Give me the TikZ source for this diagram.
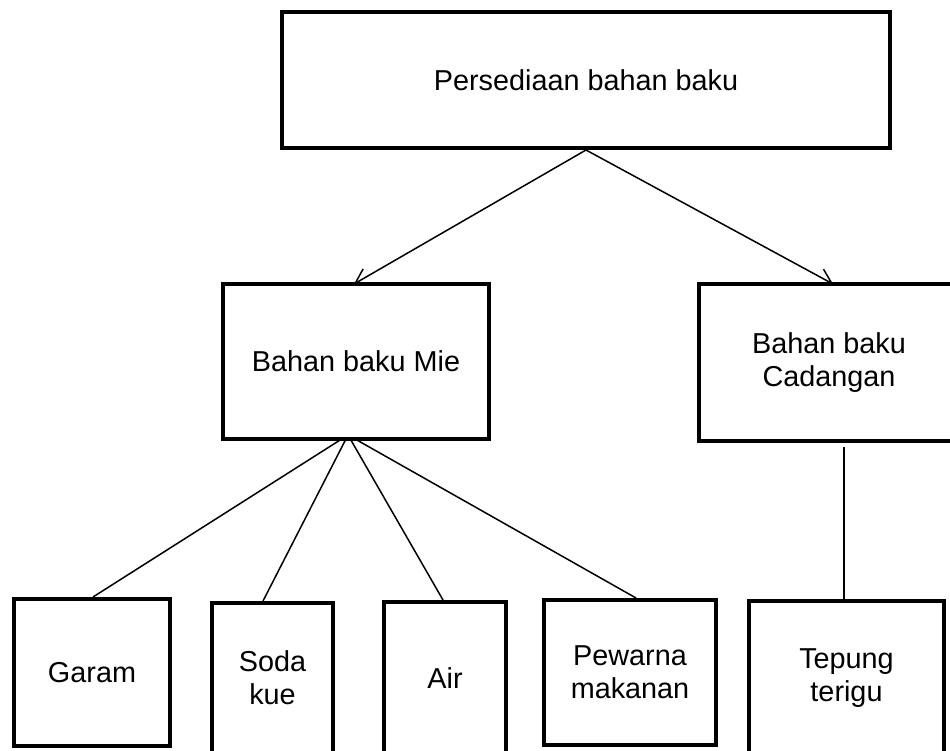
\documentclass[tikz,border=0pt]{standalone}
\usepackage{fontspec}
\setmainfont{Liberation Sans}
\usetikzlibrary{arrows.meta}
\pgfdeclarelayer{background}
\pgfsetlayers{background,main}
\begin{document}
\begin{tikzpicture}[x=1pt,y=-1pt,
  box/.style={draw, line width=4pt, fill=white, rectangle, align=center, inner sep=0pt,
    font=\fontsize{28.8pt}{33pt}\selectfont},
  conn/.style={line width=1.5pt},
  arr/.style={line width=1.5pt, -{Straight Barb[length=14pt,width=17pt,line width=1.5pt]}}]
\useasboundingbox (0,0) rectangle (950,751);
\node[box, minimum width=608pt, minimum height=136pt] (top) at (586,80) {Persediaan bahan baku};
\node[box, minimum width=266pt, minimum height=155pt] (mie) at (356,361.5) {Bahan baku Mie};
\node[box, minimum width=260pt, minimum height=157pt] (cad) at (829,362.5) {Bahan baku\\Cadangan};
\node[box, minimum width=156pt, minimum height=147pt] (garam) at (92,672.5) {Garam};
\node[box, minimum width=121pt, minimum height=150pt] (soda) at (272.5,678) {Soda\\kue};
\node[box, minimum width=122pt, minimum height=152pt] (air) at (445,678) {Air};
\node[box, minimum width=172pt, minimum height=145pt] (pew) at (630,672.5) {Pewarna\\makanan};
\node[box, minimum width=195pt, minimum height=154pt] (tep) at (846.5,678) {Tepung\\terigu};
\coordinate (mieh) at (348,435);
\begin{pgfonlayer}{background}
\draw[arr] (top.south) -- ([xshift=-2pt,yshift=-2pt]mie.north);
\draw[arr] (top.south) -- ([xshift=4pt,yshift=-2pt]cad.north);
\draw[conn] (mieh) -- ([xshift=1pt]garam.north);
\draw[conn] (mieh) -- ([xshift=-9.5pt]soda.north);
\draw[conn] (mieh) -- ([xshift=-2pt]air.north);
\draw[conn] (mieh) -- ([xshift=6pt]pew.north);
\draw[conn] ([xshift=15pt,yshift=-4pt]cad.south) -- ([xshift=-2.5pt]tep.north);
\end{pgfonlayer}
\end{tikzpicture}
\end{document}
